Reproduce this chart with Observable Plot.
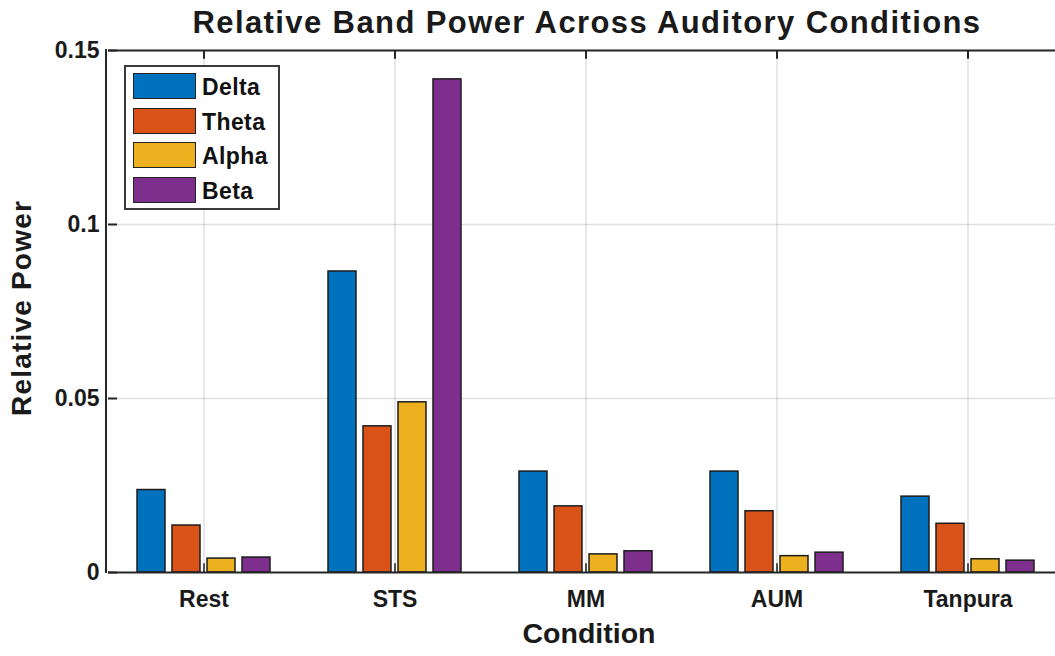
<!DOCTYPE html>
<html>
<head>
<meta charset="utf-8">
<script src="https://cdn.jsdelivr.net/npm/d3@7"></script>
<script src="https://cdn.jsdelivr.net/npm/@observablehq/plot@0.6"></script>
<style>
  html, body { margin: 0; padding: 0; background: #fff; overflow: hidden; }
  #wrap { position: relative; width: 1055px; height: 656px; overflow: hidden; font-family: "Liberation Sans", Arial, sans-serif; }
  #chart { position: absolute; left: 0; top: 0; }
  .lbl { position: absolute; font-weight: bold; color: #1a1a1a; white-space: nowrap; line-height: 1.15; }
  #legend { position: absolute; left: 124px; top: 65px; width: 152px; height: 141px; border: 2px solid #3a3a3a; background: #fff; }
  .row { position: absolute; left: 7px; height: 27px; }
  .sw { position: absolute; left: 0; top: 0; width: 61px; height: 24px; border: 1.5px solid #222; }
  .rt { position: absolute; left: 69px; top: 1px; font-weight: bold; font-size: 23px; letter-spacing: 0.4px; line-height: 1.15; color: #111; }
  #leftline { position: absolute; left: 105px; top: 49px; width: 2px; height: 524px; background: #262626; }
</style>
</head>
<body>
<div id="wrap">
  <div id="chart"></div>
  <div id="leftline"></div>
  <div class="lbl" id="title" style="left:587px; top:5px; transform:translateX(-50%); font-size:31px; letter-spacing:1.4px;">Relative Band Power Across Auditory Conditions</div>
  <div class="lbl" id="ylab" style="left:22px; top:308px; transform:translate(-50%,-50%) rotate(-90deg); font-size:28px; letter-spacing:1.2px;">Relative Power</div>
  <div class="lbl" id="xlab" style="left:589px; top:617px; transform:translateX(-50%); font-size:28.5px;">Condition</div>
  <div id="legend"></div>
</div>
<script>
const conditions = ["Rest", "STS", "MM", "AUM", "Tanpura"];
const bands = ["Delta", "Theta", "Alpha", "Beta"];
const delta = [0.0237, 0.0865, 0.0290, 0.0290, 0.0218];
const theta = [0.0135, 0.0420, 0.0190, 0.0176, 0.0140];
const alpha = [0.0040, 0.0489, 0.0052, 0.0047, 0.0038];
const beta  = [0.0043, 0.1417, 0.0061, 0.0057, 0.0034];
const colors = ["#0072BD", "#D95319", "#EDB120", "#7E2F8E"];
const yTicks = [0, 0.05, 0.1, 0.15];

const series = [delta, theta, alpha, beta];
const data = [];
conditions.forEach((c, i) => bands.forEach((b, j) => data.push({condition: c, band: b, value: series[j][i]})));

const chart = Plot.plot({
  width: 1075,
  height: 656,
  marginLeft: 106,
  marginRight: 10,
  marginTop: 50,
  marginBottom: 84,
  style: {fontFamily: "'Liberation Sans', Arial, sans-serif", background: "#fff", overflow: "visible", maxWidth: "none"},
  fx: {domain: conditions, padding: 0, label: null},
  x: {domain: bands, paddingInner: 0.19, paddingOuter: 0.77, axis: null},
  y: {domain: [0, 0.15], ticks: yTicks},
  color: {domain: bands, range: colors},
  marks: [
    Plot.gridY(yTicks.slice(1), {stroke: "#000", strokeOpacity: 0.12, strokeWidth: 1.5}),
    Plot.gridFx({stroke: "#000", strokeOpacity: 0.12, strokeWidth: 1.5}),
    Plot.barY(data, {fx: "condition", x: "band", y: "value", fill: "band", stroke: "#1c1c1c", strokeWidth: 1.5}),
    Plot.gridFx({y1: 0.15, y2: 0.1475, stroke: "#262626", strokeOpacity: 1, strokeWidth: 2}),
    Plot.gridFx({y1: 0, y2: 0.0025, stroke: "#262626", strokeOpacity: 0.8, strokeWidth: 2}),
    Plot.ruleY([0], {stroke: "#262626", strokeWidth: 2}),
    Plot.ruleY([0.15], {stroke: "#262626", strokeWidth: 2}),
    Plot.axisY({ticks: yTicks, tickFormat: d => String(d), label: null, tickSize: -9, tickPadding: 18, strokeWidth: 2, stroke: "#262626", fontSize: 23, fontWeight: "bold", fill: "#1a1a1a", letterSpacing: 0.8}),
    Plot.axisFx({anchor: "bottom", label: null, tickSize: 0, tickPadding: 18, fontSize: 23, fontWeight: "bold", fill: "#1a1a1a", letterSpacing: 1})
  ]
});
document.getElementById("chart").appendChild(chart);

const legend = document.getElementById("legend");
bands.forEach((b, j) => {
  const row = document.createElement("div");
  row.className = "row";
  row.style.top = (6 + j * 34.7) + "px";
  const sw = document.createElement("div");
  sw.className = "sw";
  sw.style.background = colors[j];
  const t = document.createElement("div");
  t.className = "rt";
  t.textContent = b;
  row.appendChild(sw);
  row.appendChild(t);
  legend.appendChild(row);
});
</script>
</body>
</html>
